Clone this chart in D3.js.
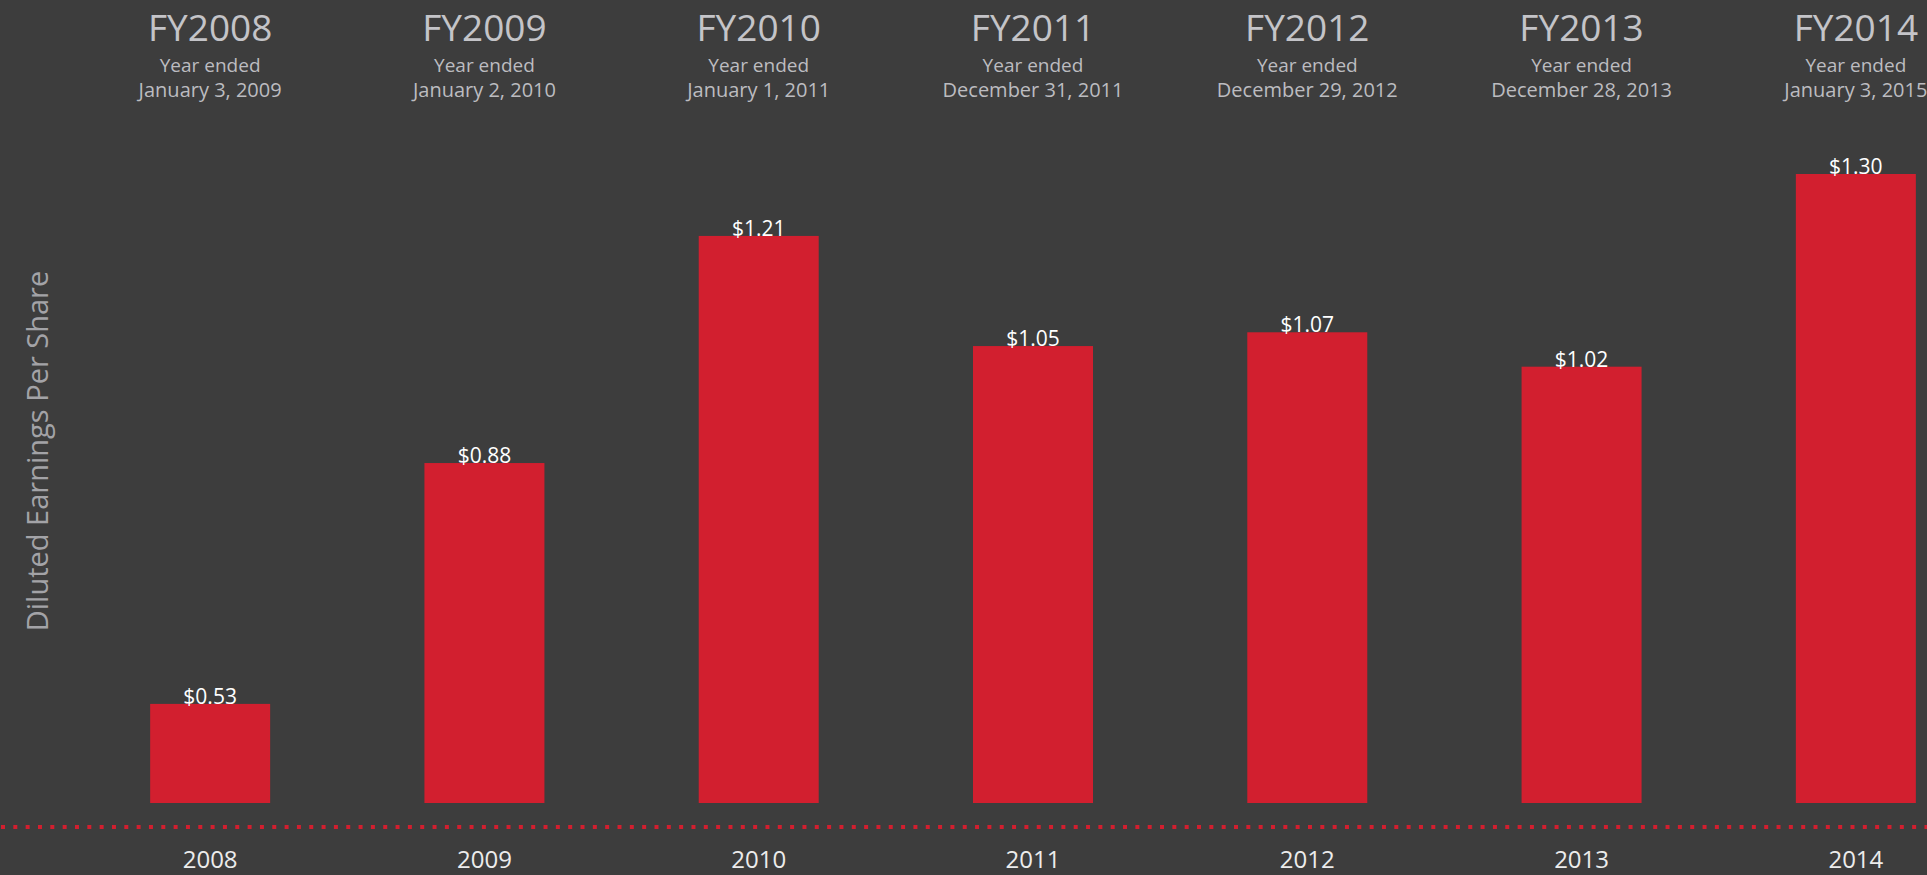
<!DOCTYPE html>
<html>
<head>
<meta charset="utf-8">
<script src="https://cdn.jsdelivr.net/npm/d3@7"></script>
<style>
  html, body { margin: 0; padding: 0; background: #3d3d3d; overflow: hidden; }
  svg { display: block; }
  text { font-family: "Open Sans", "Noto Sans", sans-serif; }
</style>
</head>
<body>
<svg id="chart" width="1927" height="875"></svg>
<script>
const years = ["2008", "2009", "2010", "2011", "2012", "2013", "2014"];
const fiscalLabels = ["FY2008", "FY2009", "FY2010", "FY2011", "FY2012", "FY2013", "FY2014"];
const yearEndedDates = ["January 3, 2009", "January 2, 2010", "January 1, 2011", "December 31, 2011", "December 29, 2012", "December 28, 2013", "January 3, 2015"];
const eps = [0.53, 0.88, 1.21, 1.05, 1.07, 1.02, 1.30];

const W = 1927, H = 875;
const svg = d3.select("#chart");
svg.append("rect").attr("width", W).attr("height", H).attr("fill", "#3d3d3d");

const x = d3.scaleBand()
  .domain(years)
  .range([73, 1993])
  .paddingInner(0.5625)
  .paddingOuter(0.28125);

const y = d3.scaleLinear()
  .domain([0.386, 1.30])
  .range([803, 174]);

// bars
svg.selectAll("rect.bar")
  .data(eps)
  .join("rect")
  .attr("class", "bar")
  .attr("x", (d, i) => x(years[i]))
  .attr("y", d => y(d))
  .attr("width", x.bandwidth())
  .attr("height", d => y.range()[0] - y(d))
  .attr("fill", "#d21f2f");

// value labels
svg.selectAll("text.val")
  .data(eps)
  .join("text")
  .attr("class", "val")
  .attr("x", (d, i) => x(years[i]) + x.bandwidth() / 2)
  .attr("y", d => y(d))
  .attr("text-anchor", "middle")
  .attr("fill", "#ffffff")
  .attr("font-size", 21)
  .text(d => "$" + d3.format(".2f")(d));

// dotted baseline
svg.append("line")
  .attr("x1", 1).attr("x2", W)
  .attr("y1", 827).attr("y2", 827)
  .attr("stroke", "#d21f2f")
  .attr("stroke-width", 4)
  .attr("stroke-dasharray", "4 8.33");

// x axis year labels
const xAxis = d3.axisBottom(x).tickSize(0).tickPadding(0);
const gx = svg.append("g").attr("transform", "translate(0,849)").call(xAxis);
gx.select(".domain").remove();
gx.selectAll("text")
  .attr("fill", "#ececec")
  .attr("font-size", 24)
  .attr("dy", "0.8em")
  .style("font-family", "'Open Sans', sans-serif");

// headers
const hdr = svg.selectAll("g.hdr")
  .data(years)
  .join("g")
  .attr("class", "hdr")
  .attr("transform", d => `translate(${x(d) + x.bandwidth() / 2},0)`);
hdr.append("text")
  .attr("y", 41)
  .attr("text-anchor", "middle")
  .attr("fill", "#c4c4c8")
  .attr("font-size", 37)
  .attr("font-weight", 500)
  .text((d, i) => fiscalLabels[i]);
hdr.append("text")
  .attr("y", 72)
  .attr("text-anchor", "middle")
  .attr("fill", "#bcbcc0")
  .attr("font-size", 19)
  .text("Year ended");
hdr.append("text")
  .attr("y", 97)
  .attr("text-anchor", "middle")
  .attr("fill", "#bcbcc0")
  .attr("font-size", 20)
  .text((d, i) => yearEndedDates[i]);

// y axis title
svg.append("text")
  .attr("transform", "translate(48,451) rotate(-90)")
  .attr("text-anchor", "middle")
  .attr("fill", "#a3a3a7")
  .attr("font-size", 29)
  .text("Diluted Earnings Per Share");
</script>
</body>
</html>
